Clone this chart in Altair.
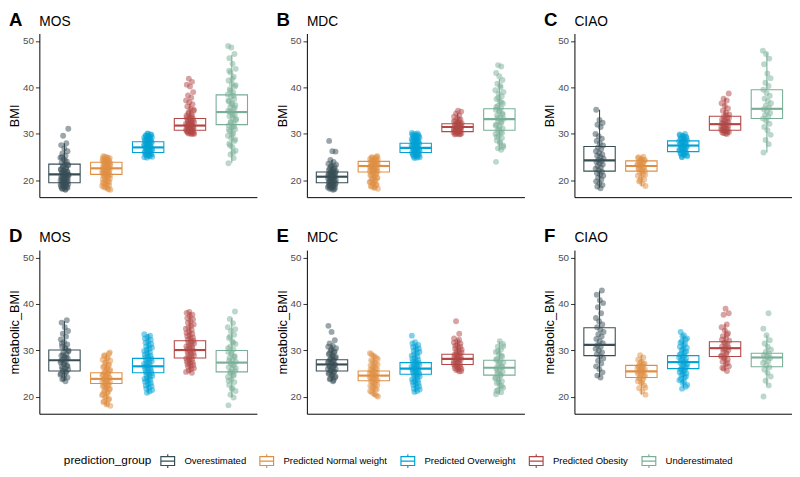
import altair as alt
import pandas as pd

GROUPS = ["Overestimated", "Predicted Normal weight", "Predicted Overweight",
          "Predicted Obesity", "Underestimated"]
COLORS = ["#374E55", "#DF8F44", "#00A1D5", "#B24745", "#79AF97"]
LETTERS = ["A", "B", "C", "D", "E", "F"]
NAMES = ["MOS", "MDC", "CIAO", "MOS", "MDC", "CIAO"]
Y_TITLES = ["BMI", "BMI", "BMI", "metabolic_BMI", "metabolic_BMI", "metabolic_BMI"]
Y_TICKS = [20, 30, 40, 50]

# ---------------- Panel A : MOS, BMI ----------------
A_OVER = [18.0, 18.2, 18.4, 18.5, 18.7, 18.9, 19.0, 19.2, 19.3, 19.5, 19.6, 19.8, 20.0, 20.1, 20.3,
          20.5, 20.7, 20.9, 21.0, 21.2, 21.3, 21.5, 21.7, 21.9, 22.1, 22.4, 22.6, 22.9, 23.2, 23.5,
          23.8, 24.1, 24.5, 24.9, 25.3, 25.8, 26.3, 26.9, 27.6, 28.0, 29.6, 31.1,
          18.1, 18.3, 18.6, 18.8, 19.1, 19.4, 19.7, 19.9, 20.2, 20.4, 20.6, 20.8, 21.1, 21.4, 21.6,
          21.8, 22.0, 22.3, 22.7, 23.0, 23.4, 24.3, 25.0]
A_NORMAL = [18.0, 18.3, 18.6, 18.9, 19.2, 19.5, 19.8, 20.1, 20.4, 20.7, 21.0, 21.2, 21.4, 21.6, 21.8,
            22.0, 22.2, 22.4, 22.6, 22.8, 23.0, 23.2, 23.4, 23.6, 23.8, 24.0, 24.2, 24.4, 24.6, 24.8,
            25.0, 25.2,
            18.1, 18.5, 18.8, 19.1, 19.4, 19.7, 20.0, 20.3, 20.6, 20.9, 21.1, 21.3, 21.5, 21.7, 21.9,
            22.1, 22.3, 22.5, 22.7, 22.9, 23.1, 23.3, 23.5, 23.7, 23.9, 24.1, 24.3, 24.5, 24.7, 24.9,
            25.1]
A_OVERWEIGHT = [24.9, 25.1, 25.3, 25.5, 25.7, 25.9, 26.1, 26.3, 26.5, 26.7, 26.9, 27.1, 27.3, 27.5,
                27.7, 27.9, 28.1, 28.3, 28.5, 28.7, 28.9, 29.1, 29.3, 29.5, 29.7, 29.9, 30.1,
                25.0, 25.2, 25.4, 25.6, 25.8, 26.0, 26.2, 26.4, 26.6, 26.8, 27.0, 27.2, 27.4, 27.6,
                27.8, 28.0, 28.2, 28.4, 28.6, 28.8, 29.0, 29.2, 29.4, 29.6, 29.8, 30.0]
A_OBESITY = [30.0, 30.1, 30.2, 30.4, 30.5, 30.7, 30.8, 31.0, 31.1, 31.3, 31.5, 31.7, 31.9, 32.1, 32.3,
             32.5, 32.8, 33.0, 33.3, 33.6, 33.9, 34.2, 34.6, 35.0, 35.4, 35.9, 36.4, 36.8, 37.2, 37.8,
             38.3, 39.0, 40.2, 40.6, 41.2, 41.9,
             30.0, 30.1, 30.3, 30.4, 30.6, 30.7, 30.9, 31.0, 31.2, 31.4, 31.6, 31.8, 32.0, 32.2, 32.4,
             32.7, 32.9, 33.2, 33.5, 33.8, 34.4, 35.2]
A_UNDER = [23.7, 24.8, 25.6, 26.4, 27.2, 27.9, 28.5, 29.1, 29.6, 30.1, 30.6, 31.0, 31.4, 31.8, 32.2,
           32.6, 33.0, 33.4, 33.8, 34.2, 34.6, 35.0, 35.4, 35.8, 36.2, 36.6, 37.0, 37.5, 38.0, 38.5,
           39.0, 39.6, 40.2, 40.8, 41.5, 42.3, 43.2, 44.0, 45.1, 46.3, 47.2, 48.6, 48.9,
           26.0, 27.5, 28.8, 29.9, 30.9, 31.6, 32.4, 33.2, 34.0, 34.8, 35.6, 36.4, 37.2, 38.2, 39.3,
           40.5, 41.9, 43.6]
# (lower whisker, q1, median, q3, upper whisker)
A_BOX = [(18.0, 19.5, 21.3, 23.5, 28.0), (18.0, 21.3, 22.6, 23.9, 25.2), (24.9, 26.0, 27.1, 28.3, 30.1),
         (30.0, 30.8, 31.8, 33.3, 36.5), (23.8, 32.0, 34.7, 38.4, 47.0)]

# ---------------- Panel B : MDC, BMI ----------------
B_OVER = [18.0, 18.2, 18.4, 18.6, 18.8, 19.0, 19.2, 19.4, 19.6, 19.8, 20.0, 20.2, 20.4, 20.6, 20.8,
          21.0, 21.2, 21.4, 21.6, 21.8, 22.0, 22.3, 22.6, 22.9, 23.2, 23.6, 24.0, 24.4, 26.2, 26.3, 28.5,
          18.1, 18.3, 18.5, 18.7, 18.9, 19.1, 19.3, 19.5, 19.7, 19.9, 20.1, 20.3, 20.5, 20.7, 20.9,
          21.1, 21.3, 21.5, 21.7, 21.9, 22.2, 22.5, 23.0, 23.4]
B_NORMAL = [18.2, 18.5, 18.8, 19.1, 19.4, 19.7, 20.0, 20.3, 20.6, 20.9, 21.2, 21.5, 21.8, 22.0, 22.2,
            22.4, 22.6, 22.8, 23.0, 23.2, 23.4, 23.6, 23.8, 24.0, 24.2, 24.4, 24.6, 24.8, 25.0, 25.2,
            18.4, 18.7, 19.0, 19.3, 19.6, 19.9, 20.2, 20.5, 20.8, 21.1, 21.4, 21.7, 21.9, 22.1, 22.3,
            22.5, 22.7, 22.9, 23.1, 23.3, 23.5, 23.7, 23.9, 24.1, 24.3, 24.5, 24.7, 24.9, 25.1]
B_OVERWEIGHT = [24.8, 25.0, 25.2, 25.4, 25.6, 25.8, 26.0, 26.2, 26.4, 26.6, 26.8, 27.0, 27.2, 27.4,
                27.6, 27.8, 28.0, 28.2, 28.4, 28.6, 28.8, 29.0, 29.2, 29.4, 29.6, 29.8, 30.0, 30.2,
                24.9, 25.1, 25.3, 25.5, 25.7, 25.9, 26.1, 26.3, 26.5, 26.7, 26.9, 27.1, 27.3, 27.5,
                27.7, 27.9, 28.1, 28.3, 28.5, 28.7, 28.9, 29.1, 29.3, 29.5, 29.7, 29.9, 30.1]
B_OBESITY = [29.9, 30.0, 30.1, 30.3, 30.4, 30.6, 30.7, 30.9, 31.0, 31.2, 31.3, 31.5, 31.7, 31.9, 32.1,
             32.3, 32.5, 32.8, 33.1, 33.4, 33.7, 34.0, 34.4, 34.8, 35.0,
             29.9, 30.0, 30.2, 30.3, 30.5, 30.6, 30.8, 30.9, 31.1, 31.2, 31.4, 31.6, 31.8, 32.0, 32.2,
             32.4, 32.7, 33.0]
B_UNDER = [24.0, 26.6, 26.9, 27.5, 28.0, 28.6, 29.1, 29.6, 30.0, 30.4, 30.8, 31.2, 31.6, 32.0, 32.4,
           32.8, 33.2, 33.6, 34.0, 34.4, 34.8, 35.2, 35.6, 36.0, 36.5, 37.0, 37.5, 38.1, 38.7, 39.4,
           40.0, 40.8, 41.6, 42.4, 43.1, 44.5, 44.8,
           27.2, 28.3, 29.4, 30.2, 31.0, 31.8, 32.6, 33.4, 34.2, 35.0, 35.8, 36.8, 37.8, 39.0, 40.4]
B_BOX = [(18.0, 19.5, 20.8, 21.8, 24.4), (18.2, 21.8, 23.1, 24.1, 25.2), (24.8, 26.0, 27.0, 28.0, 30.2),
         (29.9, 30.5, 31.5, 32.2, 34.4), (26.6, 30.8, 33.2, 35.4, 41.8)]

# ---------------- Panel C : CIAO, BMI ----------------
C_OVER = [18.3, 18.7, 19.0, 19.4, 19.8, 20.2, 20.6, 21.0, 21.3, 21.6, 21.9, 22.2, 22.5, 22.8, 23.1,
          23.4, 23.7, 24.0, 24.2, 24.4, 24.7, 25.0, 25.3, 25.6, 25.9, 26.3, 26.7, 27.1, 27.5, 28.0,
          28.5, 29.0, 29.5, 30.0, 31.5, 32.0, 32.4, 33.0, 35.2]
C_NORMAL = [18.8, 19.3, 19.8, 20.2, 20.6, 21.0, 21.4, 21.7, 22.0, 22.3, 22.6, 22.9, 23.1, 23.3, 23.6,
            23.9, 24.2, 24.5, 24.8, 25.1,
            20.0, 21.2, 21.9, 22.4, 22.8, 23.2, 23.5, 23.8, 24.1, 24.4, 24.7, 25.0]
C_OVERWEIGHT = [25.0, 25.2, 25.5, 25.7, 26.0, 26.2, 26.5, 26.7, 27.0, 27.2, 27.5, 27.7, 28.0, 28.2,
                28.5, 28.7, 29.0, 29.2, 29.5, 29.7, 30.0,
                25.1, 25.4, 25.6, 25.9, 26.1, 26.4, 26.6, 26.9, 27.1, 27.4, 27.6, 27.9, 28.1, 28.4,
                28.6, 28.9, 29.1, 29.4, 29.6, 29.9]
C_OBESITY = [30.0, 30.2, 30.4, 30.6, 30.8, 31.0, 31.3, 31.6, 31.9, 32.2, 32.5, 32.8, 33.1, 33.4, 33.8,
             34.2, 34.6, 35.0, 35.5, 36.0, 36.6, 37.2, 37.6, 38.7,
             30.1, 30.3, 30.5, 30.7, 30.9, 31.1, 31.4, 31.7, 32.0, 32.3, 32.6, 33.0, 33.5, 34.0]
C_UNDER = [26.0, 27.8, 28.7, 29.8, 30.8, 31.5, 32.2, 32.8, 33.3, 33.7, 34.1, 34.5, 34.9, 35.3, 35.7,
           36.1, 36.6, 37.1, 37.6, 38.2, 38.8, 39.5, 40.3, 41.0, 42.0, 43.0, 45.0, 46.2, 47.2, 47.9]
C_BOX = [(18.5, 22.0, 24.3, 27.3, 35.2), (18.8, 22.0, 23.1, 24.2, 25.1), (25.0, 26.2, 27.5, 28.5, 30.0),
         (30.0, 30.8, 32.1, 33.8, 37.6), (26.0, 33.3, 35.4, 39.5, 47.5)]

# ---------------- Panel D : MOS, metabolic_BMI ----------------
D_OVER = [23.4, 23.8, 24.2, 24.6, 25.0, 25.3, 25.6, 25.9, 26.2, 26.5, 26.8, 27.1, 27.4, 27.7, 28.0,
          28.3, 28.6, 28.9, 29.2, 29.6, 30.0, 30.4, 30.8, 31.3, 31.8, 32.4, 33.0, 33.6, 34.2, 35.0,
          36.0, 36.5,
          24.0, 24.8, 25.5, 26.0, 26.6, 27.2, 27.8, 28.4, 29.0, 29.8, 30.6, 31.5]
D_NORMAL = [18.1, 18.6, 19.1, 19.6, 20.1, 20.6, 21.0, 21.4, 21.8, 22.1, 22.4, 22.7, 23.0, 23.3, 23.6,
            23.9, 24.2, 24.5, 24.8, 25.1, 25.4, 25.8, 26.2, 26.6, 27.0, 27.5, 28.0, 28.5, 29.0, 29.6,
            18.4, 18.9, 19.4, 19.9, 20.4, 20.8, 21.2, 21.6, 22.0, 22.3, 22.6, 22.9, 23.2, 23.5, 23.8,
            24.1, 24.4, 24.7, 25.0, 25.3, 25.6, 26.0, 26.4, 26.8, 27.3, 27.8, 28.3, 28.8, 29.3]
D_OVERWEIGHT = [20.9, 21.5, 22.0, 22.5, 23.0, 23.5, 23.9, 24.3, 24.7, 25.1, 25.5, 25.9, 26.3, 26.7,
                27.1, 27.5, 27.9, 28.3, 28.7, 29.1, 29.6, 30.1, 30.6, 31.1, 31.7, 32.3, 32.9, 33.5,
                21.2, 21.8, 22.3, 22.8, 23.3, 23.7, 24.1, 24.5, 24.9, 25.3, 25.7, 26.1, 26.5, 26.9,
                27.3, 27.7, 28.1, 28.5, 28.9, 29.4, 29.9, 30.4, 30.9, 31.4, 32.0, 32.6, 33.2]
D_OBESITY = [25.2, 25.7, 26.2, 26.7, 27.1, 27.5, 27.9, 28.3, 28.7, 29.1, 29.5, 29.9, 30.3, 30.7, 31.1,
             31.5, 31.9, 32.3, 32.8, 33.3, 33.8, 34.4, 35.0, 35.6, 36.3, 37.0, 37.7, 38.3,
             25.4, 26.0, 26.5, 26.9, 27.3, 27.7, 28.1, 28.5, 28.9, 29.3, 29.7, 30.1, 30.5, 30.9, 31.3,
             31.7, 32.1, 32.6, 33.1, 33.6, 34.1, 34.7, 35.3, 36.0, 36.7, 37.4, 38.1]
D_UNDER = [18.2, 19.9, 20.5, 21.3, 22.0, 22.6, 23.2, 23.8, 24.3, 24.8, 25.2, 25.6, 26.0, 26.4, 26.8,
           27.2, 27.6, 28.0, 28.4, 28.8, 29.2, 29.7, 30.2, 30.8, 31.4, 32.0, 32.7, 33.4, 34.2, 35.0,
           35.9, 36.8, 38.4,
           21.7, 23.5, 24.6, 25.4, 26.2, 27.0, 27.8, 28.6, 29.5, 30.5, 31.7, 33.0, 34.6]
D_BOX = [(23.5, 25.6, 27.9, 30.1, 36.3), (18.1, 22.9, 23.9, 25.2, 29.5), (20.9, 25.2, 26.6, 28.3, 33.5),
         (25.2, 28.4, 30.1, 32.1, 38.3), (20.0, 25.4, 27.4, 30.0, 37.0)]

# ---------------- Panel E : MDC, metabolic_BMI ----------------
E_OVER = [23.4, 23.8, 24.2, 24.6, 25.0, 25.4, 25.7, 26.0, 26.3, 26.6, 26.9, 27.2, 27.5, 27.8, 28.1,
          28.4, 28.8, 29.2, 29.6, 30.0, 30.5, 31.0, 31.5, 32.2, 34.0, 35.3,
          23.6, 24.0, 24.4, 24.8, 25.2, 25.5, 25.8, 26.1, 26.4, 26.7, 27.0, 27.3, 27.6, 27.9, 28.2,
          28.6, 29.0, 29.4, 29.8, 30.3, 30.8]
E_NORMAL = [20.1, 20.6, 21.1, 21.6, 22.0, 22.4, 22.8, 23.2, 23.6, 23.9, 24.2, 24.5, 24.8, 25.1, 25.4,
            25.7, 26.0, 26.4, 26.8, 27.2, 27.7, 28.2, 28.7, 29.2,
            20.3, 20.8, 21.3, 21.8, 22.2, 22.6, 23.0, 23.4, 23.7, 24.0, 24.3, 24.6, 24.9, 25.2, 25.5,
            25.8, 26.2, 26.6, 27.0, 27.4, 27.9, 28.4, 28.9, 29.4]
E_OVERWEIGHT = [21.1, 21.6, 22.1, 22.6, 23.0, 23.4, 23.8, 24.2, 24.6, 25.0, 25.3, 25.6, 25.9, 26.2,
                26.5, 26.8, 27.1, 27.4, 27.8, 28.2, 28.7, 29.2, 29.7, 30.2, 30.7, 31.2, 31.8, 33.2,
                21.3, 21.8, 22.3, 22.8, 23.2, 23.6, 24.0, 24.4, 24.8, 25.1, 25.4, 25.7, 26.0, 26.3,
                26.6, 26.9, 27.2, 27.6, 28.0, 28.4, 28.9, 29.4, 29.9, 30.4, 30.9, 31.5]
E_OBESITY = [25.5, 25.8, 26.1, 26.4, 26.7, 27.0, 27.3, 27.6, 27.9, 28.2, 28.5, 28.8, 29.1, 29.4, 29.8,
             30.2, 30.6, 31.0, 31.5, 32.0, 32.6, 33.6, 36.3,
             25.6, 25.9, 26.2, 26.5, 26.8, 27.1, 27.4, 27.7, 28.0, 28.3, 28.6, 28.9, 29.2, 29.6, 30.0,
             30.4, 30.8, 31.2, 31.7, 32.3]
E_UNDER = [20.6, 21.0, 21.5, 22.0, 22.5, 23.0, 23.4, 23.8, 24.2, 24.6, 25.0, 25.4, 25.8, 26.2, 26.6,
           27.0, 27.4, 27.8, 28.2, 28.7, 29.2, 29.7, 30.2, 30.8, 31.4, 32.0,
           21.3, 22.3, 23.2, 24.0, 24.8, 25.6, 26.4, 27.2, 28.0, 28.9, 29.9, 30.9]
E_BOX = [(23.5, 25.6, 27.0, 28.0, 31.2), (20.1, 23.5, 24.6, 25.6, 29.2), (21.1, 24.9, 26.1, 27.4, 31.2),
         (25.5, 27.0, 28.2, 29.2, 32.3), (20.6, 24.7, 26.3, 27.9, 32.0)]

# ---------------- Panel F : CIAO, metabolic_BMI ----------------
F_OVER = [24.2, 24.6, 25.3, 26.0, 26.6, 27.2, 27.8, 28.3, 28.8, 29.2, 29.6, 30.0, 30.4, 30.8, 31.2,
          31.6, 32.0, 32.5, 33.0, 33.5, 34.0, 34.5, 35.0, 35.6, 36.3, 37.0, 38.0, 39.3, 40.2, 40.8,
          42.0, 42.9]
F_NORMAL = [20.5, 21.2, 21.9, 22.5, 23.0, 23.4, 23.8, 24.2, 24.6, 25.0, 25.3, 25.6, 25.9, 26.2, 26.5,
            26.8, 27.2, 27.6, 28.0, 28.5, 29.0,
            22.0, 23.2, 24.0, 24.4, 24.8, 25.1, 25.4, 25.7, 26.0, 26.3, 26.6, 27.0, 27.4]
F_OVERWEIGHT = [21.8, 22.6, 23.3, 23.9, 24.4, 24.9, 25.3, 25.7, 26.1, 26.5, 26.9, 27.3, 27.7, 28.1,
                28.5, 28.9, 29.3, 29.8, 30.3, 30.8, 31.4, 32.0, 32.6, 33.3, 34.0,
                22.2, 23.0, 23.6, 24.2, 24.7, 25.1, 25.5, 25.9, 26.3, 26.7, 27.1, 27.5, 27.9, 28.3,
                28.7, 29.1, 29.6, 30.1, 30.6, 31.1, 31.7, 32.3, 33.0]
F_OBESITY = [25.6, 26.1, 26.6, 27.1, 27.6, 28.1, 28.5, 28.9, 29.3, 29.7, 30.1, 30.5, 30.9, 31.3, 31.7,
             32.1, 32.6, 33.1, 33.7, 34.3, 35.0, 35.6, 37.7, 38.0, 39.0,
             26.3, 27.3, 28.3, 28.7, 29.5, 30.3, 30.7, 31.5, 32.3, 33.4]
F_UNDER = [20.1, 22.5, 23.5, 24.4, 25.2, 25.9, 26.4, 26.9, 27.3, 27.7, 28.1, 28.4, 28.7, 29.0, 29.3,
           29.7, 30.2, 30.8, 31.5, 32.2, 33.3, 34.7, 38.0]
F_BOX = [(24.3, 28.9, 31.2, 34.9, 42.8), (20.5, 24.2, 25.5, 26.8, 29.0), (22.0, 26.1, 27.5, 28.9, 33.0),
         (25.7, 28.7, 30.5, 31.9, 35.7), (22.5, 26.5, 28.5, 29.4, 33.3)]

PANEL_POINTS = [
    [A_OVER, A_NORMAL, A_OVERWEIGHT, A_OBESITY, A_UNDER],
    [B_OVER, B_NORMAL, B_OVERWEIGHT, B_OBESITY, B_UNDER],
    [C_OVER, C_NORMAL, C_OVERWEIGHT, C_OBESITY, C_UNDER],
    [D_OVER, D_NORMAL, D_OVERWEIGHT, D_OBESITY, D_UNDER],
    [E_OVER, E_NORMAL, E_OVERWEIGHT, E_OBESITY, E_UNDER],
    [F_OVER, F_NORMAL, F_OVERWEIGHT, F_OBESITY, F_UNDER],
]
PANEL_BOXES = [A_BOX, B_BOX, C_BOX, D_BOX, E_BOX, F_BOX]

FONT = "Liberation Sans"
JITTER = 0.1
BOX_HALF = 0.375
PW, PH = 222, 167
SYMBOL = "M-0.7,-0.45H0.7V0.45H-0.7Z M-0.7,0H0.7 M0,-0.45V-0.7 M0,0.45V0.7"

x_scale = alt.Scale(domain=[-0.6, 4.6], nice=False, zero=False)
y_scale = alt.Scale(domain=[16.4, 51.6], nice=False, zero=False)
line_scale = alt.Scale(domain=GROUPS, range=COLORS)
# same mapping, listed in reverse so that the point layer keeps a legend of its own (hidden)
dot_scale = alt.Scale(domain=GROUPS[::-1], range=COLORS[::-1])
x_axis = alt.Axis(labels=False, ticks=False, title=None, grid=False, domainColor="black",
                  domainWidth=1)
LEGEND = alt.Legend(orient="bottom", direction="horizontal", titleOrient="left",
                    symbolType=SYMBOL, symbolSize=400, symbolStrokeWidth=1.2,
                    padding=25, offset=12)


def y_axis(title):
    return alt.Axis(values=Y_TICKS, title=title, grid=False, domainColor="black", tickColor="#333333",
                    tickSize=4, labelPadding=2, labelColor="#4D4D4D", labelFontSize=10,
                    titleFontSize=13, titleFontWeight="normal", titleColor="black", titlePadding=1,
                    labelFont=FONT, titleFont=FONT, domainWidth=1)


def panel(i):
    pts, boxes = PANEL_POINTS[i], PANEL_BOXES[i]
    prow = []
    for gi, vals in enumerate(pts):
        for k, v in enumerate(vals):
            frac = ((k + 1) * 0.6180339887 + gi * 0.37) % 1.0
            prow.append({"group": GROUPS[gi], "xj": gi + (frac - 0.5) * 2 * JITTER, "value": v})
    brow = []
    for gi, (lo, q1, med, q3, hi) in enumerate(boxes):
        brow.append({"group": GROUPS[gi], "xc": gi, "x0": gi - BOX_HALF, "x1": gi + BOX_HALF,
                     "lo": lo, "q1": q1, "med": med, "q3": q3, "hi": hi})
    pdf, bdf = pd.DataFrame(prow), pd.DataFrame(brow)
    ya = y_axis(Y_TITLES[i])

    def X(f):
        return alt.X(f + ":Q", scale=x_scale, axis=x_axis)

    def Y(f):
        return alt.Y(f + ":Q", scale=y_scale, axis=ya)

    st = alt.Stroke("group:N", scale=line_scale, title="prediction_group", legend=LEGEND)
    wlo = alt.Chart(bdf).mark_rule(strokeWidth=1.1).encode(x=X("xc"), y=Y("lo"), y2="q1", stroke=st)
    whi = alt.Chart(bdf).mark_rule(strokeWidth=1.1).encode(x=X("xc"), y=Y("q3"), y2="hi", stroke=st)
    box = alt.Chart(bdf).mark_rect(fill="white", strokeWidth=1.1).encode(
        x=X("x0"), x2="x1", y=Y("q1"), y2="q3", stroke=st)
    med = alt.Chart(bdf).mark_rule(strokeWidth=2.2).encode(x=X("x0"), x2="x1", y=Y("med"), stroke=st)
    dots = alt.Chart(pdf).mark_circle(size=36, opacity=0.5).encode(
        x=X("xj"), y=Y("value"), fill=alt.Fill("group:N", scale=dot_scale, legend=None))
    lab = alt.Chart(pd.DataFrame({"t": [LETTERS[i]]})).mark_text(
        align="left", baseline="alphabetic", fontSize=19, fontWeight="bold", font=FONT, color="black"
    ).encode(x=alt.value(-31), y=alt.value(-8), text="t:N")
    nm = alt.Chart(pd.DataFrame({"t": [NAMES[i]]})).mark_text(
        align="left", baseline="alphabetic", fontSize=14, font=FONT, color="black"
    ).encode(x=alt.value(0), y=alt.value(-8), text="t:N")
    return alt.layer(wlo, whi, box, med, dots, lab, nm).properties(width=PW, height=PH)


row1 = alt.hconcat(panel(0), panel(1), panel(2), spacing=19)
row2 = alt.hconcat(panel(3), panel(4), panel(5), spacing=19)
chart = alt.vconcat(row1, row2, spacing=31).properties(
    padding={"left": 0, "top": -2, "right": 0, "bottom": 0}
).configure_view(stroke=None).configure_legend(
    symbolType=SYMBOL, symbolSize=400, symbolStrokeWidth=1.2,
    labelFont=FONT, labelFontSize=9.7, labelColor="black", labelOffset=6,
    titleFont=FONT, titleFontSize=12, titleFontWeight="normal", titleColor="black",
    titlePadding=5, columnPadding=10
).configure_text(font=FONT)

chart.save("out.html", embed_options={"renderer": "svg", "actions": False})
